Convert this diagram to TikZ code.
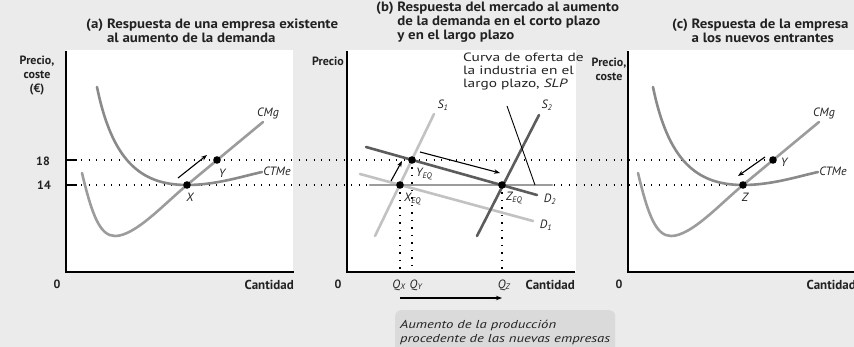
\documentclass[tikz,border=0pt]{standalone}
\usepackage{fontspec}
\setmainfont{PT Sans}
\newfontfamily\fuentetitulo{PT Sans}[FakeStretch=1.1]
\newfontfamily\fuenteancha{PT Sans}[FakeStretch=1.28]
\usetikzlibrary{arrows.meta}

\definecolor{fondo}{HTML}{EBEBEB}
\definecolor{caja}{HTML}{DADADA}
\definecolor{texto}{HTML}{222222}
\definecolor{gclaro}{HTML}{C2C2C2}
\definecolor{gmedio}{HTML}{9C9C9C}
\definecolor{gcurva}{HTML}{8A8A8A}
\definecolor{goscuro}{HTML}{5C5C5C}

\tikzset{
  curva/.style={line width=2.6pt, line cap=round},
  eje/.style={line width=1.2pt},
  punteado/.style={line width=1.2pt, dash pattern=on 1.2pt off 6.3pt},
  flecha/.style={line width=1.1pt, -{Stealth[length=6pt,width=4.5pt]}},
  titulo/.style={anchor=north west, inner sep=0pt, align=left,
    font=\fuentetitulo\fontsize{13.5}{14}\selectfont\bfseries, text=texto},
  etiq/.style={inner sep=0pt, font=\fontsize{12}{14}\selectfont\bfseries, text=texto},
  curvaetiq/.style={inner sep=0pt, font=\fontsize{12}{13}\selectfont\itshape, text=texto},
  nota/.style={anchor=north west, fill=caja, rounded corners=6pt, align=left,
    minimum width=205pt, minimum height=45pt, inner sep=5pt, text=texto,
    font=\fuenteancha\fontsize{11.5}{13.5}\selectfont\itshape},
}

\begin{document}
\begin{tikzpicture}[x=1pt,y=-1pt]
        \useasboundingbox (0,0) rectangle (854,347);
        \fill[fondo] (0,0) rectangle (854,347);
        % zonas blancas de los graficos
        \fill[white] (66,50) rectangle (293,272);
        \fill[white] (347,50) rectangle (576,272);
        \fill[white] (628,50) rectangle (854,272);

        % titulos
        \node[titulo] (tita) at (86,19) {(a) Respuesta de una empresa existente\\\hphantom{(a) }al aumento de la demanda};
        \node[titulo] (titb) at (376,2) {(b) Respuesta del mercado al aumento\\\hphantom{(b) }de la demanda en el corto plazo\\\hphantom{(b) }y en el largo plazo};
        \node[titulo] (titc) at (672,19) {(c) Respuesta de la empresa\\\hphantom{(c) }a los nuevos entrantes};

        % puntos de equilibrio
        \coordinate (Xa) at (187,185);
        \coordinate (Ya) at (217,160);
        \coordinate (Xb) at (400,185);
        \coordinate (Yb) at (412,160);
        \coordinate (Zb) at (502,185);
        \coordinate (Zc) at (743,185);
        \coordinate (Yc) at (773,160);

        % lineas de puntos
        \coordinate (t18) at (66,160);
        \coordinate (t14) at (66,185);
        \draw[punteado] (t18) -- (Yc);
        \draw[punteado] (t14) -- (Zc);
        \foreach \q in {Xb, Yb, Zb} {
                \draw[punteado] (\q) -- (\q |- 0,272);
            }

        % ejes
        \foreach \x/\p in {66/a, 347/b, 628/c} {
                \coordinate (O\p) at (\x,272);
                \draw[eje] (\x,51) -- (O\p) -- ++(228,0);
                \node[etiq] (cero\p) at (\x-9,284) {0};
                \node[etiq, anchor=east, font=\fontsize{13}{14}\selectfont\bfseries] (cant\p) at (\x+228,285) {Cantidad};
            }
        \draw[eje] (t18) -- ++(11,0);
        \draw[eje] (t14) -- ++(11,0);
        \node[etiq] (n18) at (43,161) {18};
        \node[etiq] (n14) at (44,185) {14};
        \node[etiq, align=center] (pra) at (37,76) {Precio,\\coste\\(€)};
        \node[etiq, anchor=east] (prb) at (344,61) {Precio};
        \node[etiq, align=center] (prc) at (609,69) {Precio,\\coste};

        % curvas de la empresa (a) y (c)
        \foreach \d/\p in {0/a, 556/c} {
                \begin{scope}[xshift=\d]
                        \draw[curva, gcurva] (97,87) .. controls (112,160) and (140,185) .. (187,185)
                        .. controls (215,185) and (240,177) .. (262,172);
                        \draw[curva, gmedio] (82,173) .. controls (92,215) and (100,236) .. (115,236)
                        .. controls (135,236) and (163,205) .. (187,185) -- (263,122);
                        \node[curvaetiq] (CMg\p) at (268,114) {CMg};
                        \node[curvaetiq] (CTMe\p) at (277,171) {CTMe};
                    \end{scope}
            }

        % curvas del mercado (b)
        \draw[curva, gclaro] (375,236) -- (434,114);
        \draw[curva, gclaro] (360,174) -- (533,221);
        \draw[curva, gmedio] (370,185) -- (552,185);
        \draw[curva, goscuro] (366,147) -- (537,195);
        \draw[curva, goscuro] (477,236) -- (539,115);
        \draw[line width=0.9pt] (507,106) -- (535,185);
        \node[curvaetiq] (S1) at (443,105) {S\textsubscript{1}};
        \node[curvaetiq] (S2) at (547,105) {S\textsubscript{2}};
        \node[curvaetiq] (D1) at (546,225) {D\textsubscript{1}};
        \node[curvaetiq] (D2) at (550,199) {D\textsubscript{2}};
        \node[anchor=north west, inner sep=0pt, align=left, text=texto,
            font=\fuenteancha\fontsize{12}{13}\selectfont] (slp) at (463,53)
            {Curva de oferta de\\la industria en el\\largo plazo, \textit{SLP}};

        % flechas
        \coordinate (fa1) at (178,178);
        \coordinate (fa2) at (207,155);
        \draw[flecha] (fa1) -- (fa2);
        \coordinate (fb1) at (391,181);
        \coordinate (fb2) at (402,161);
        \draw[flecha] (fb1) -- (fb2);
        \coordinate (fb3) at (420,152);
        \coordinate (fb4) at (500,173);
        \draw[flecha] (fb3) -- (fb4);
        \coordinate (fc1) at (765,157);
        \coordinate (fc2) at (738,176);
        \draw[flecha] (fc1) -- (fc2);

        % puntos
        \foreach \q in {Xa, Ya, Xb, Yb, Zb, Zc, Yc} {
                \fill[black] (\q) circle (3.8pt);
            }
        \node[curvaetiq] (lXa) at (190,197) {X};
        \node[curvaetiq] (lYa) at (222,173) {Y};
        \node[curvaetiq, anchor=west] (lYb) at (416,174) {Y\textsubscript{EQ}};
        \node[curvaetiq, anchor=west] (lXb) at (404,199) {X\textsubscript{EQ}};
        \node[curvaetiq, anchor=west] (lZb) at (506,198) {Z\textsubscript{EQ}};
        \node[curvaetiq] (lZc) at (745,197) {Z};
        \node[curvaetiq] (lYc) at (784,162) {Y};

        % cantidades
        \node[curvaetiq] (QX) at (399,285) {Q\textsubscript{X}};
        \node[curvaetiq] (QY) at (416,285) {Q\textsubscript{Y}};
        \node[curvaetiq] (QZ) at (504,285) {Q\textsubscript{Z}};
        \coordinate (g1) at (400,298);
        \coordinate (g2) at (502,298);
        \draw[flecha] (g1) -- (g2);
        \node[nota] (nota) at (395,310) {Aumento de la producción\\procedente de las nuevas empresas};
    \end{tikzpicture}
\end{document}
